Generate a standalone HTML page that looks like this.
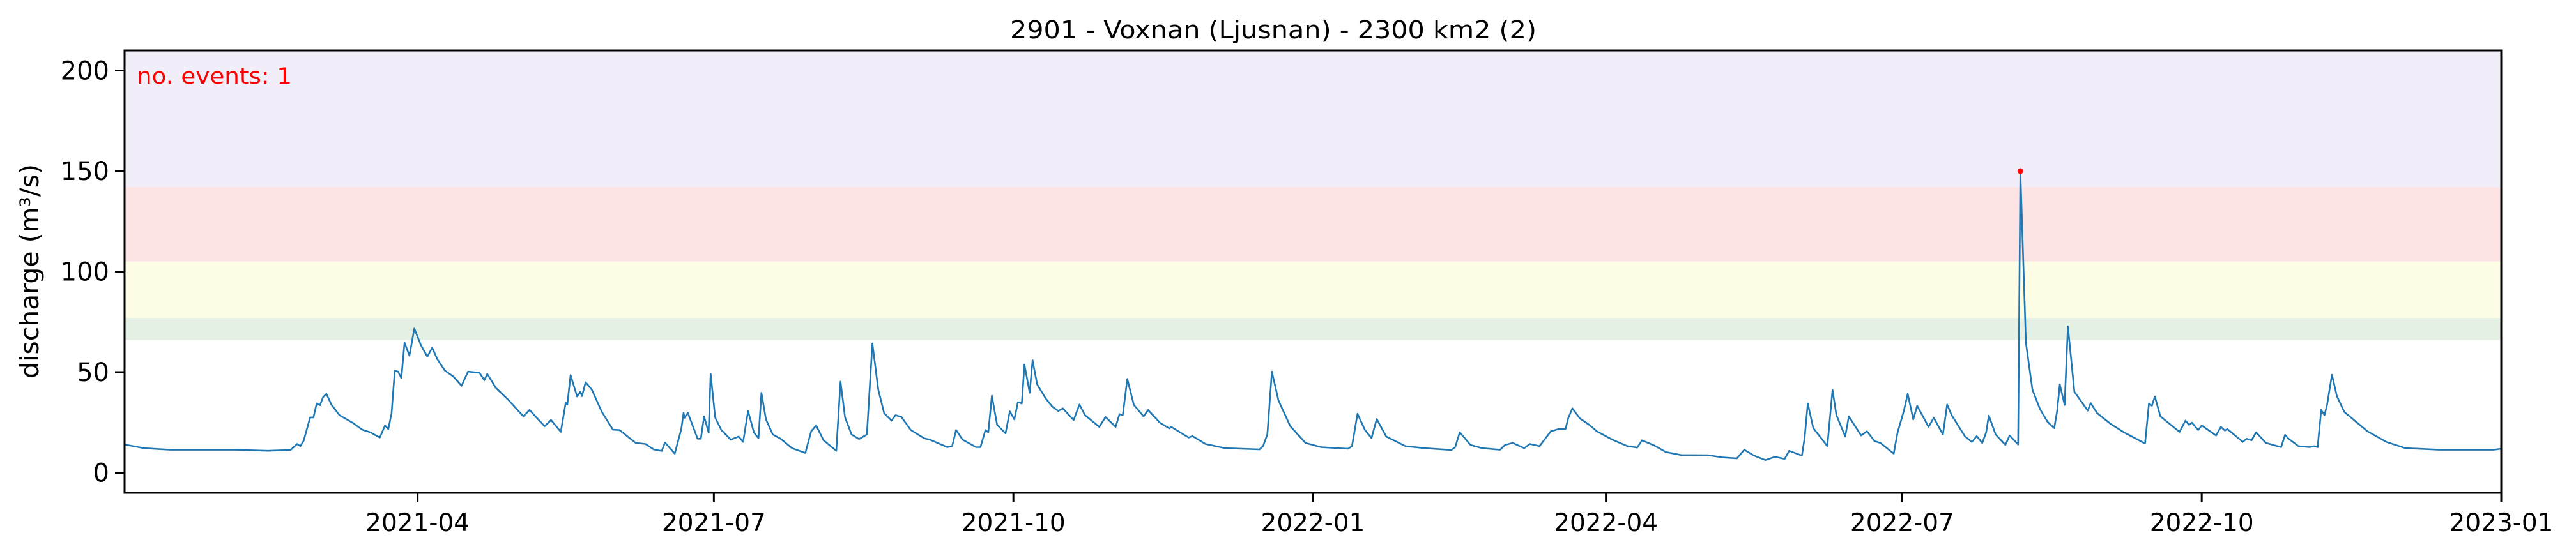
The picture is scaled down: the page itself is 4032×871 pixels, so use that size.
<!DOCTYPE html>
<html><head><meta charset="utf-8">
<style>
html,body{margin:0;padding:0;background:#fff;}
svg{display:block;}
text{font-family:"DejaVu Sans","Liberation Sans",sans-serif;}
</style></head>
<body>
<svg id="chart" width="4032" height="871" viewBox="0 0 4032 871" xmlns="http://www.w3.org/2000/svg">
<text x="1993" y="60" font-size="38" text-anchor="middle" textLength="824" lengthAdjust="spacingAndGlyphs" fill="#000">2901 - Voxnan (Ljusnan) - 2300 km2 (2)</text>
<text transform="translate(60,425) rotate(-90)" font-size="40" text-anchor="middle" textLength="336" lengthAdjust="spacingAndGlyphs" fill="#000">discharge (m³/s)</text>
<g id="plot"></g>
</svg>
<script>
// day offsets from 2021-01-01
const days = [0,6,14,34,44,51,53,54,55,57,58,59,60,61,62,63.5,66,70,73,75.5,78.4,80,81,82,83,84,85,86,87.5,89,91,93,94.5,96,98.4,101,103.5,105.5,109,110.5,111.4,114,118,122.5,124.4,129,131,134,135.5,136,137,139,140,140.5,141.6,143.5,146.6,150,152,157,160,162.5,165,166,169,171,171.7,172,173,176,177,178,179.4,180,181.4,183.3,186.2,188.6,190,191.5,193.3,194.7,195.6,197,199.1,201.5,205,209.1,210.9,212.4,214.7,218.6,219.9,221.3,223.3,225.6,228,229.7,231.5,233.3,235.6,236.8,238.6,241.5,245.6,247.4,252.7,254.2,255.4,257.4,261.5,262.9,264.4,265.3,266.4,268,270.6,271.9,273.3,274.4,275.6,276.4,278,278.9,280.3,282.9,285,286.8,288.2,291.5,293.3,295,299.4,301.3,304.4,305.6,306.6,308,310,313,314.4,318,320.9,321.5,326.8,328,332,338,348.6,349.7,351,352.4,354.4,358,362.7,367.5,375.8,377,378.7,381,383,384.6,387.5,393.4,399.3,407.5,408.7,410.1,413.4,417,422.5,424,426.4,429.9,431.6,434.6,438.1,440.5,442.6,443.4,444.7,447,449.9,452.2,457,461.6,464.6,466.1,469.9,473.4,478.1,486.4,491,495.2,497.5,500.5,504,506.9,509.9,511.3,515.2,516,517,518.7,523,524.6,525.8,528.5,529.6,533.4,535.2,537.5,539.3,543.4,544.6,546.5,547.7,549.4,550.6,554.1,555.7,558.5,559.8,561.2,565.3,567.4,568.9,570.6,571.8,572.6,574.7,577.7,579,581.6,582.3,584,586,588.3,590.6,592.7,593.6,594.4,595.9,596.9,598.9,603,603.9,605.9,610,614.1,620.6,621.8,622.7,623.6,625.3,631.2,633,634.1,635,636.9,638,642.4,643.9,645.1,645.9,650.6,651.8,653.3,654.7,657.7,662.4,663.6,664.7,667.7,671.2,672.6,673.6,674.7,675.7,676.5,678,679.5,681.8,688.9,694.7,700.6,711.2,723,727.7,730];
const discharge = [14.0,12.2,11.4,11.4,10.9,11.3,14.3,13.2,15.9,27.5,27.5,34.4,33.6,37.6,39.2,33.9,28.6,24.9,21.4,20.1,17.5,23.5,21.7,29.6,50.8,50.3,47.1,64.6,58.2,71.7,63.5,57.7,62.2,56.6,50.8,47.8,43.2,50.3,49.7,46.0,49.1,42.3,36.0,28.0,31.2,23.1,26.2,20.3,34.9,33.9,48.5,37.9,40.2,38.1,45.0,41.3,30.2,21.4,21.2,14.8,14.3,11.6,10.8,15.0,9.5,21.7,29.8,27.3,29.8,16.9,16.9,28.0,19.9,49.2,27.5,21.2,16.4,18.0,15.3,30.7,20.1,17.1,39.7,26.5,19.0,16.9,12.2,9.8,20.6,23.5,16.1,10.9,45.3,27.5,19.0,16.7,19.0,64.3,41.3,29.6,25.9,28.6,27.7,21.2,17.1,16.4,12.7,13.2,21.2,16.4,12.7,12.7,21.2,20.1,38.3,23.8,19.6,30.5,26.5,35.1,34.4,53.8,39.7,55.9,43.9,37.0,32.8,30.7,32.0,26.2,33.9,28.6,22.8,27.7,22.8,29.1,28.6,46.6,33.7,28.0,31.2,24.9,22.0,22.8,17.5,18.2,14.3,12.2,11.6,13.2,19.0,50.3,36.0,23.3,14.8,12.7,11.9,13.2,29.3,21.2,17.2,26.7,18.0,13.2,12.2,11.3,12.7,20.1,13.8,12.2,11.4,13.8,14.8,12.2,14.3,13.2,20.6,21.7,21.7,27.0,32.0,27.0,23.8,20.6,16.4,13.2,12.5,16.1,13.5,10.3,8.8,8.7,7.6,7.1,11.4,8.5,6.3,7.9,6.9,10.9,8.5,16.9,34.4,22.2,13.2,41.1,28.6,18.0,28.0,18.5,20.6,15.7,14.8,9.5,20.1,30.7,39.2,26.5,33.3,22.8,27.3,19.0,33.9,28.6,18.0,15.3,18.2,14.8,20.1,28.4,19.0,13.8,18.5,14.0,150.0,64.6,41.3,31.7,25.4,22.2,30.7,43.9,33.7,72.8,40.2,30.9,34.6,29.6,24.3,20.1,14.5,34.4,33.3,37.9,28.0,20.3,25.9,23.8,24.9,21.2,23.5,18.5,22.8,21.0,21.7,15.3,16.9,16.1,20.1,14.8,12.7,18.8,16.9,13.2,12.7,13.2,12.7,31.2,28.6,33.7,48.7,38.1,30.2,20.6,15.3,12.2,11.4,11.4,11.4,11.9];
const eventDays = [582.3];
const eventValues = [150.0];
const bandLows = [142, 105, 77, 66];
const bandHighs = [210, 142, 105, 77];
const bandColors = ['#f1eef9','#fee3e5','#fefee6','#e5f1e4'];
const yTicks = [0,50,100,150,200];
const xTickDays = [90,181,273,365,455,546,638,730];
const xTickLabels = ['2021-04','2021-07','2021-10','2022-01','2022-04','2022-07','2022-10','2023-01'];

const L=195,R=3915,T=79,B=772, X0=0,X1=730, Y0=-10,Y1=210;
const sx=d=>L+(d-X0)/(X1-X0)*(R-L);
const sy=v=>B-(v-Y0)/(Y1-Y0)*(B-T);
const NS='http://www.w3.org/2000/svg';
const g=document.getElementById('plot');
function mk(tag,attrs){const e=document.createElementNS(NS,tag);for(const k in attrs)e.setAttribute(k,attrs[k]);g.appendChild(e);return e;}

bandLows.forEach((lo,i)=>{
  const r=mk('rect',{x:L,y:sy(bandHighs[i]),width:R-L,height:sy(lo)-sy(bandHighs[i]),fill:bandColors[i]});
  
  
});
let d='';
days.forEach((dd,i)=>{d+=(i?'L':'M')+sx(dd).toFixed(1)+' '+sy(discharge[i]).toFixed(1);});
const line=mk('path',{d:d,fill:'none',stroke:'#1f77b4','stroke-width':2.6,'stroke-linejoin':'round'});


eventDays.forEach((ed,i)=>{
  const c=mk('circle',{cx:sx(ed),cy:sy(eventValues[i]),r:4.5,fill:'#ff0000'});
  
  
});
const ev=mk('text',{x:214,y:131,'font-size':35,fill:'#ff0000',textLength:243,lengthAdjust:'spacingAndGlyphs'});
ev.textContent='no. events: 1';


const frame=mk('rect',{x:L,y:T,width:R-L,height:B-T,fill:'none',stroke:'#000','stroke-width':3});


yTicks.forEach(v=>{
  const t=mk('line',{x1:L,x2:L-15,y1:sy(v),y2:sy(v),stroke:'#000','stroke-width':3});
  
  
  const tx=mk('text',{x:L-24,y:sy(v)+14,'font-size':40,'text-anchor':'end',fill:'#000'});
  tx.textContent=v;
  
  
});
xTickDays.forEach((dd,i)=>{
  const t=mk('line',{x1:sx(dd),x2:sx(dd),y1:B,y2:B+15,stroke:'#000','stroke-width':3});
  
  
  const tx=mk('text',{x:sx(dd),y:832,'font-size':39,'text-anchor':'middle',fill:'#000'});
  tx.textContent=xTickLabels[i];
  
  
});
</script>
</body></html>
